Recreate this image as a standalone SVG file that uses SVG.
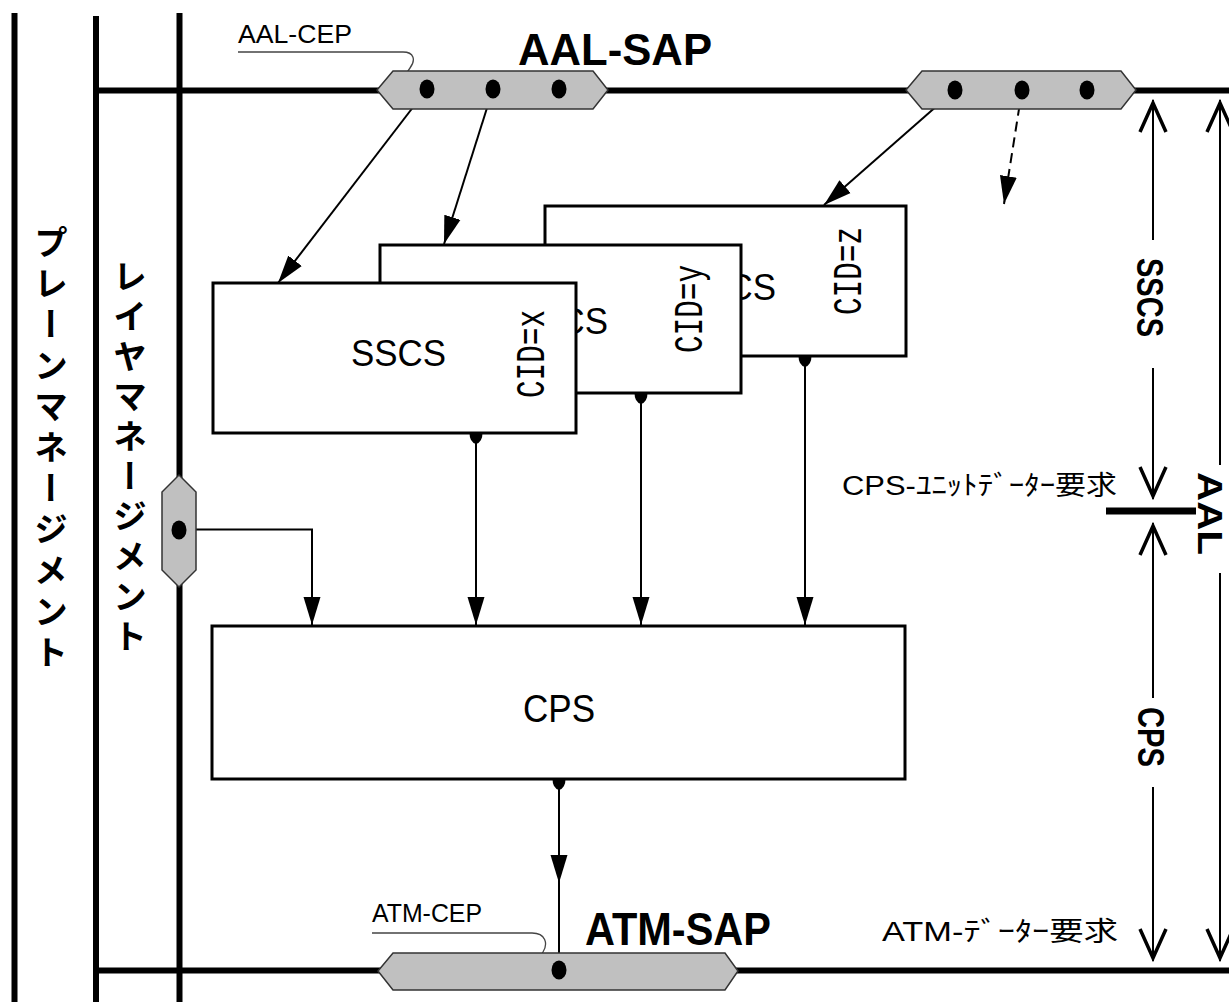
<svg xmlns="http://www.w3.org/2000/svg" width="1229" height="1002" viewBox="0 0 1229 1002">
<defs>
<marker id="ah" markerUnits="userSpaceOnUse" markerWidth="30" markerHeight="20" refX="28" refY="9" orient="auto" viewBox="0 0 30 20"><path d="M0,0.5 L28,9 L0,17.5 Z" fill="#000"/></marker>
</defs>
<style>
.rail{stroke:#000;stroke-width:6;fill:none}
.hex{fill:#c0c0c0;stroke:#333;stroke-width:1.5}
.box{fill:#fff;stroke:#000;stroke-width:3}
.conn{stroke:#000;stroke-width:2;fill:none}
.chev{stroke:#000;stroke-width:3.5;fill:none;stroke-linejoin:miter;stroke-miterlimit:10}
.cep{stroke:#444;stroke-width:1.3;fill:none}
.dot{fill:#000}
.lbl{font-family:"Liberation Sans","Noto Sans CJK JP",sans-serif;fill:#000}
.bold{font-weight:bold}
.mono{font-family:"Liberation Mono",monospace;fill:#000}
.jp{font-family:"Noto Sans CJK JP",sans-serif;font-weight:bold;fill:#000}
</style>

<g id="rails">
<line class="rail" x1="14.5" y1="13" x2="14.5" y2="1002"/>
<line class="rail" x1="96" y1="16" x2="96" y2="1002"/>
<line class="rail" x1="179.5" y1="13" x2="179.5" y2="1002"/>
<line class="rail" x1="93" y1="90.5" x2="1229" y2="90.5"/>
<line class="rail" x1="93" y1="970.5" x2="1229" y2="970.5" stroke-width="7"/>
</g>

<g id="plane-management">
<text class="jp" x="51" y="225" font-size="34" letter-spacing="7" writing-mode="vertical-rl">プレーンマネージメント</text>
</g>
<g id="layer-management">
<text class="jp" x="130" y="259" font-size="34" letter-spacing="6" writing-mode="vertical-rl">レイヤマネージメント</text>
</g>

<g id="sscs-z">
<rect class="box" x="545" y="206" width="361" height="150"/>
<text class="lbl" x="681" y="300" font-size="37" textLength="95" lengthAdjust="spacingAndGlyphs">SSCS</text>
<text class="mono" transform="translate(861,315) rotate(-90)" font-size="40" textLength="88" lengthAdjust="spacingAndGlyphs">CID=z</text>
<path class="dot" d="M798.5,356 Q798.5,365 805,367 Q811.5,365 811.5,356 Z"/>
</g>
<g id="sscs-y">
<rect class="box" x="380" y="245" width="361" height="148"/>
<text class="lbl" x="513" y="334" font-size="37" textLength="95" lengthAdjust="spacingAndGlyphs">SSCS</text>
<text class="mono" transform="translate(702,353) rotate(-90)" font-size="40" textLength="88" lengthAdjust="spacingAndGlyphs">CID=y</text>
<path class="dot" d="M634.5,393 Q634.5,402 641,404 Q647.5,402 647.5,393 Z"/>
</g>
<g id="sscs-x">
<rect class="box" x="213" y="283" width="363" height="150"/>
<text class="lbl" x="351" y="366" font-size="37" textLength="95" lengthAdjust="spacingAndGlyphs">SSCS</text>
<text class="mono" transform="translate(544,398) rotate(-90)" font-size="40" textLength="88" lengthAdjust="spacingAndGlyphs">CID=x</text>
<path class="dot" d="M469.5,433 Q469.5,442 476,444 Q482.5,442 482.5,433 Z"/>
</g>

<g id="cps">
<rect class="box" x="212" y="626" width="693" height="153"/>
<text class="lbl" x="523" y="722" font-size="38" textLength="72" lengthAdjust="spacingAndGlyphs">CPS</text>
<path class="dot" d="M552.5,779 Q552.5,788 559,790 Q565.5,788 565.5,779 Z"/>
</g>

<g id="connectors">
<line class="conn" x1="427" y1="89" x2="278" y2="283" marker-end="url(#ah)"/>
<line class="conn" x1="493" y1="89" x2="444" y2="244" marker-end="url(#ah)"/>
<line class="conn" x1="955" y1="90" x2="824" y2="205" marker-end="url(#ah)"/>
<line class="conn" x1="1022" y1="90" x2="1004" y2="204" stroke-dasharray="10,6" marker-end="url(#ah)"/>
<polyline class="conn" points="180,529.5 312,529.5 312,625" marker-end="url(#ah)"/>
<line class="conn" x1="476" y1="433" x2="476" y2="625" marker-end="url(#ah)"/>
<line class="conn" x1="641" y1="393" x2="641" y2="625" marker-end="url(#ah)"/>
<line class="conn" x1="805" y1="356" x2="805" y2="625" marker-end="url(#ah)"/>
<line class="conn" x1="559" y1="779" x2="559" y2="883" marker-end="url(#ah)"/>
<line class="conn" x1="559" y1="880" x2="559" y2="970"/>
<path class="cep" d="M238,52 H403 C414,52 416,60 410,68 C404,76 400,88 420,89"/>
<path class="cep" d="M372,933 H532 C546,933 548,944 543,952 C538,960 534,971 552,971"/>
</g>

<g id="aal-sap">
<polygon class="hex" points="377,90 393,71 593,71 608,90 593,109 393,109"/>
<ellipse class="dot" cx="427" cy="89" rx="7.5" ry="9.5"/>
<ellipse class="dot" cx="493" cy="89" rx="7.5" ry="9.5"/>
<ellipse class="dot" cx="559" cy="89" rx="7.5" ry="9.5"/>
<text class="lbl" x="238" y="43" font-size="25" textLength="114" lengthAdjust="spacingAndGlyphs">AAL-CEP</text>
<text class="lbl bold" x="518" y="65" font-size="44" textLength="194" lengthAdjust="spacingAndGlyphs">AAL-SAP</text>
</g>
<g id="aal-sap-2">
<polygon class="hex" points="906,90 922,71 1121,71 1136,90 1121,109 922,109"/>
<ellipse class="dot" cx="955" cy="90" rx="7.5" ry="9.5"/>
<ellipse class="dot" cx="1022" cy="90" rx="7.5" ry="9.5"/>
<ellipse class="dot" cx="1087" cy="90" rx="7.5" ry="9.5"/>
</g>
<g id="lm-sap">
<polygon class="hex" points="179,475 196,492 196,570 179,587 162,570 162,492"/>
<ellipse class="dot" cx="179" cy="530" rx="7.5" ry="9.5"/>
</g>
<g id="atm-sap">
<polygon class="hex" points="378,971 393,953 725,953 738,971 725,990 393,990"/>
<ellipse class="dot" cx="559" cy="970" rx="7.5" ry="9.5"/>
<text class="lbl" x="372" y="922" font-size="25" textLength="110" lengthAdjust="spacingAndGlyphs">ATM-CEP</text>
<text class="lbl bold" x="585" y="945" font-size="47" textLength="186" lengthAdjust="spacingAndGlyphs">ATM-SAP</text>
</g>

<g id="dimensions">
<line class="conn" x1="1153" y1="100" x2="1153" y2="240"/>
<line class="conn" x1="1153" y1="368" x2="1153" y2="499"/>
<line class="conn" x1="1220" y1="100" x2="1220" y2="465"/>
<line class="conn" x1="1220" y1="573" x2="1220" y2="961"/>
<line class="conn" x1="1153" y1="523" x2="1153" y2="698"/>
<line class="conn" x1="1153" y1="787" x2="1153" y2="961"/>
<path class="chev" d="M1140,132 L1153,103 L1166,132"/>
<path class="chev" d="M1140,467 L1153,496 L1166,467"/>
<path class="chev" d="M1207,132 L1220,103 L1233,132"/>
<path class="chev" d="M1140,555 L1153,526 L1166,555"/>
<path class="chev" d="M1140,929 L1153,958 L1166,929"/>
<path class="chev" d="M1207,929 L1220,958 L1233,929"/>
<line x1="1106" y1="511" x2="1196" y2="511" stroke="#000" stroke-width="7"/>
<text class="lbl bold" transform="translate(1137,258) rotate(90)" font-size="37" textLength="79" lengthAdjust="spacingAndGlyphs">SSCS</text>
<text class="lbl bold" transform="translate(1138,707) rotate(90)" font-size="37" textLength="60" lengthAdjust="spacingAndGlyphs">CPS</text>
<text class="lbl bold" transform="translate(1198,472) rotate(90)" font-size="35" textLength="83" lengthAdjust="spacingAndGlyphs">AAL</text>
<text class="lbl" x="842" y="495" font-size="27" textLength="275" lengthAdjust="spacingAndGlyphs">CPS-ﾕﾆｯﾄﾃﾞｰﾀｰ要求</text>
<text class="lbl" x="882" y="941" font-size="27" textLength="236" lengthAdjust="spacingAndGlyphs">ATM-ﾃﾞｰﾀｰ要求</text>
</g>
</svg>
